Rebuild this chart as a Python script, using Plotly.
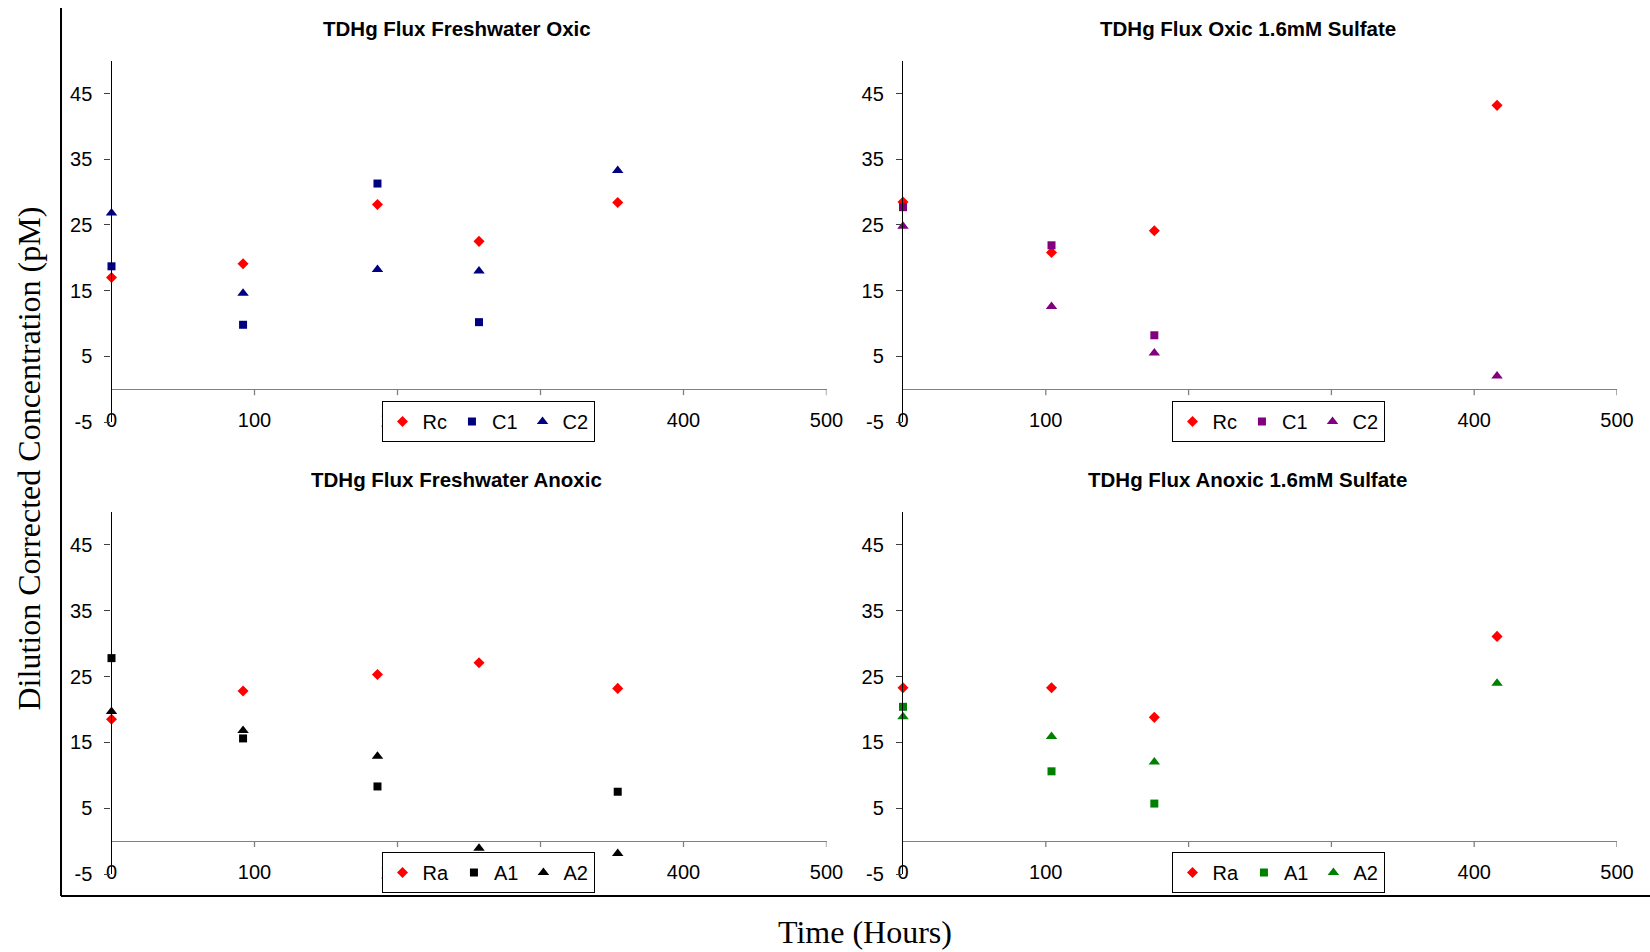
import plotly.graph_objects as go

# ---------------- data ----------------
fw_oxic_time = [0, 92, 186, 257, 354]
fw_oxic_Rc = [17.0, 19.1, 28.1, 22.5, 28.4]
fw_oxic_C1 = [18.7, 9.8, 31.3, 10.2, None]
fw_oxic_C2 = [26.8, 14.6, 18.2, 18.0, 33.3]

ox_sulf_time = [0, 104, 176, 416]
ox_sulf_Rc = [28.5, 20.8, 24.1, 43.2]
ox_sulf_C1 = [27.7, 21.9, 8.2, None]
ox_sulf_C2 = [24.8, 12.6, 5.5, 2.0]

fw_anox_time = [0, 92, 186, 257, 354]
fw_anox_Ra = [18.5, 22.8, 25.3, 27.1, 23.2]
fw_anox_A1 = [27.8, 15.6, 8.3, None, 7.5]
fw_anox_A2 = [19.7, 16.8, 12.9, -1.1, -1.9]

an_sulf_time = [0, 104, 176, 416]
an_sulf_Ra = [23.3, 23.3, 18.8, 31.1]
an_sulf_A1 = [20.4, 10.6, 5.7, None]
an_sulf_A2 = [18.9, 15.9, 12.0, 24.0]

titles = ["TDHg Flux Freshwater Oxic", "TDHg Flux Oxic 1.6mM Sulfate",
          "TDHg Flux Freshwater Anoxic", "TDHg Flux Anoxic 1.6mM Sulfate"]
x_ticks = [0, 100, 200, 300, 400, 500]
x_tick_labels = ["0", "100", "200", "300", "400", "500"]
y_ticks = [-5, 5, 15, 25, 35, 45]
y_tick_labels = ["-5", "5", "15", "25", "35", "45"]
x_range = [0, 500]
y_range = [-5, 50]

RED = "#FF0000"
NAVY = "#000080"
PURPLE = "#800080"
BLACK = "#000000"
GREEN = "#008000"

W, H = 1650, 952
ARIAL = "Arial, Liberation Sans, sans-serif"
TIMES = "Times New Roman, Liberation Serif, serif"

# panel pixel boxes: (left, right, top, bottom)
panels = [
    (111.5, 826.5, 60.7, 422.0),
    (903.0, 1617.0, 60.7, 422.0),
    (111.5, 826.5, 512.0, 874.0),
    (903.0, 1617.0, 512.0, 874.0),
]

series = [
    (fw_oxic_time, [("Rc", fw_oxic_Rc, RED, "diamond"), ("C1", fw_oxic_C1, NAVY, "square"), ("C2", fw_oxic_C2, NAVY, "triangle-up")]),
    (ox_sulf_time, [("Rc", ox_sulf_Rc, RED, "diamond"), ("C1", ox_sulf_C1, PURPLE, "square"), ("C2", ox_sulf_C2, PURPLE, "triangle-up")]),
    (fw_anox_time, [("Ra", fw_anox_Ra, RED, "diamond"), ("A1", fw_anox_A1, BLACK, "square"), ("A2", fw_anox_A2, BLACK, "triangle-up")]),
    (an_sulf_time, [("Ra", an_sulf_Ra, RED, "diamond"), ("A1", an_sulf_A1, GREEN, "square"), ("A2", an_sulf_A2, GREEN, "triangle-up")]),
]

sizes = {"diamond": 8.5, "square": 8, "triangle-up": 10}

fig = go.Figure()
layout = dict(
    template="none",
    width=W, height=H,
    margin=dict(l=0, r=0, t=0, b=0, autoexpand=False),
    paper_bgcolor="white", plot_bgcolor="white",
    font=dict(family=ARIAL, size=20, color="black"),
    showlegend=True,
)

annotations = []
shapes = []
legend_centers = [(488, 401), (1278, 401), (488, 852), (1278, 852)]
title_centers = [(456.5, 28), (1248, 28), (456.5, 479), (1247.5, 479)]

for i, ((l, r, t, b), (times, sers)) in enumerate(zip(panels, series)):
    n = i + 1
    xa = "x" if n == 1 else f"x{n}"
    ya = "y" if n == 1 else f"y{n}"
    leg = "legend" if n == 1 else f"legend{n}"
    for name, vals, color, sym in sers:
        fig.add_trace(go.Scatter(
            x=times, y=vals, mode="markers", name=name,
            marker=dict(symbol=sym, size=sizes[sym], color=color, line=dict(width=0)),
            xaxis=xa, yaxis=ya, legend=leg, cliponaxis=False,
        ))
    xkey = "xaxis" if n == 1 else f"xaxis{n}"
    ykey = "yaxis" if n == 1 else f"yaxis{n}"
    layout[xkey] = dict(
        domain=[l / W, r / W], anchor=ya, range=x_range, automargin=False,
        showgrid=False, zeroline=False, showline=False,
        tickmode="array", tickvals=x_ticks, ticktext=x_tick_labels,
        ticks="", ticklabelstandoff=-16,
        tickfont=dict(family=ARIAL, size=20, color="black"),
    )
    layout[ykey] = dict(
        domain=[1 - b / H, 1 - t / H], anchor=xa, range=y_range, automargin=False,
        showgrid=False, zeroline=True, zerolinecolor="#808080", zerolinewidth=1.3,
        showline=True, linecolor="black", linewidth=1.3,
        tickmode="array", tickvals=y_ticks, ticktext=y_tick_labels,
        ticks="outside", ticklen=6, tickcolor="#404040", tickwidth=1.3,
        ticklabelstandoff=8,
        tickfont=dict(family=ARIAL, size=20, color="black"),
    )
    # small x tick marks hanging below the axis line at y = 0
    for xv in x_ticks[1:]:
        shapes.append(dict(type="line", xref=xa, yref=ya, x0=xv, x1=xv,
                           ysizemode="pixel", yanchor=0, y0=0, y1=-6,
                           line=dict(color="#808080", width=1.3)))
    cx, cy = legend_centers[i]
    layout[leg] = dict(
        orientation="h", x=cx / W, xanchor="center", y=1 - cy / H, yanchor="top",
        bgcolor="white", bordercolor="black", borderwidth=1,
        font=dict(family=ARIAL, size=20, color="black"),
        itemwidth=30, traceorder="normal",
    )
    tx, ty = title_centers[i]
    annotations.append(dict(
        text=f"<b>{titles[i]}</b>", xref="paper", yref="paper",
        x=tx / W, y=1 - ty / H, xanchor="center", yanchor="middle",
        showarrow=False, font=dict(family=ARIAL, size=20.5, color="black"),
    ))

annotations.append(dict(
    text="Dilution Corrected Concentration (pM)", xref="paper", yref="paper",
    x=28.5 / W, y=1 - 459 / H, xanchor="center", yanchor="middle", textangle=-90,
    showarrow=False, font=dict(family=TIMES, size=32, color="black"),
))
annotations.append(dict(
    text="Time (Hours)", xref="paper", yref="paper",
    x=865 / W, y=1 - 912 / H, xanchor="center", yanchor="top",
    showarrow=False, font=dict(family=TIMES, size=32, color="black"),
))

# outer chart frame (left and bottom edges)
shapes.append(dict(type="line", xref="paper", yref="paper",
                   x0=61 / W, x1=61 / W, y0=1 - 8 / H, y1=1 - 896 / H,
                   line=dict(color="black", width=2)))
shapes.append(dict(type="line", xref="paper", yref="paper",
                   x0=61 / W, x1=1.0, y0=1 - 896 / H, y1=1 - 896 / H,
                   line=dict(color="black", width=2)))

layout["annotations"] = annotations
layout["shapes"] = shapes
fig.update_layout(**layout)
fig.write_html("out.html")
